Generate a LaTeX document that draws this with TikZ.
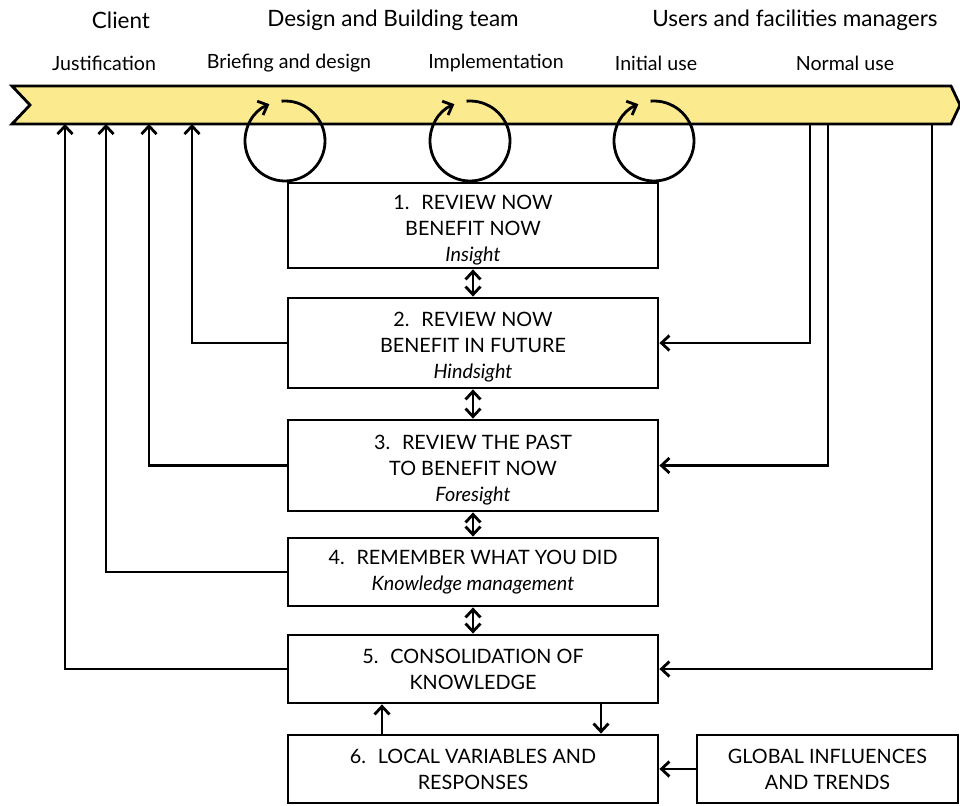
\documentclass[tikz,border=0pt]{standalone}
\usepackage{fontspec}
\setmainfont{Lato}
\usetikzlibrary{arrows.meta}
\definecolor{bandyellow}{RGB}{252,234,142}
\newcommand{\topline}[1]{\raisebox{0pt}[23pt][0pt]{#1}}

\begin{document}
\begin{tikzpicture}[
        x=1pt, y=-1pt,
        line width=2.8pt,
        font=\fontsize{19.8}{26}\selectfont,
        >={Straight Barb[length=8pt,width=15pt]},
        head/.style={font=\fontsize{22.5}{26}\selectfont, inner sep=0pt},
        stage/.style={font=\fontsize{19.6}{22}\selectfont, inner sep=0pt},
        box/.style={draw=black, fill=white, minimum width=370, inner sep=0pt, align=center},
        fb/.style={->}
    ]
        \useasboundingbox (0,0) rectangle (960,805);

        % Who and when
        \node[head] (client) at (121,20) {Client};
        \node[head] (team) at (393,20) {Design and Building team};
        \node[head] (users) at (795,20) {Users and facilities managers};

        \node[stage] (just) at (104,63) {Justification};
        \node[stage] (brief) at (289,63) {Briefing and design};
        \node[stage] (impl) at (496,63) {Implementation};
        \node[stage] (init) at (656,63) {Initial use};
        \node[stage] (norm) at (845,63) {Normal use};

        % Project band
        \draw[fill=bandyellow] (12,86) -- (951,86) -- (960,105) -- (951,124)
            -- (12,124) -- (30,105) -- cycle;

        % Review loops
        \foreach \cx in {285,470,654}
            \draw[->] (\cx,141) ++(-95:40) arc[start angle=-95, end angle=247, radius=40];

        % Review boxes
        \node[box, minimum height=85] (rev1) at (473,225.5) {
            \topline{1.~ REVIEW NOW}\\
            BENEFIT NOW\\
            \textit{Insight}
        };
        \node[box, minimum height=90] (rev2) at (473,343) {
            \topline{2.~ REVIEW NOW}\\
            BENEFIT IN FUTURE\\
            \textit{Hindsight}
        };
        \node[box, minimum height=91] (rev3) at (473,465.5) {
            \topline{3.~ REVIEW THE PAST}\\
            TO BENEFIT NOW\\
            \textit{Foresight}
        };
        \node[box, minimum height=68] (rev4) at (473,572) {
            4.~ REMEMBER WHAT YOU DID\\
            \textit{Knowledge management}
        };
        \node[box, minimum height=68] (rev5) at (473,669) {
            5.~ CONSOLIDATION OF\\
            KNOWLEDGE
        };
        \node[box, minimum height=68] (rev6) at (473,769) {
            6.~ LOCAL VARIABLES AND\\
            RESPONSES
        };
        \node[box, minimum width=261, minimum height=68] (global) at (827.5,769) {
            GLOBAL INFLUENCES\\
            AND TRENDS
        };

        % Links between boxes
        \draw[<->] (rev1) -- (rev2);
        \draw[<->] (rev2) -- (rev3);
        \draw[<->] (rev3) -- (rev4);
        \draw[<->] (rev4) -- (rev5);
        \draw[->] ([xshift=-91]rev6.north) -- ([xshift=-91]rev5.south);
        \draw[->] ([xshift=128]rev5.south) -- ([xshift=128]rev6.north);
        \draw[->] (global) -- (rev6);

        % Back to the client
        \coordinate (up2) at (192,124);
        \coordinate (up3) at (149,124);
        \coordinate (up4) at (106,124);
        \coordinate (up5) at (65,124);
        \draw[fb] (rev2.west) -| (up2);
        \draw[fb] (rev3.west) -| (up3);
        \draw[fb] (rev4.west) -| (up4);
        \draw[fb] (rev5.west) -| (up5);

        % From normal use
        \coordinate (dn2) at (810,124);
        \coordinate (dn3) at (828,124);
        \coordinate (dn5) at (932,124);
        \draw[fb] (dn2) |- (rev2.east);
        \draw[fb] (dn3) |- (rev3.east);
        \draw[fb] (dn5) |- (rev5.east);

    \end{tikzpicture}
\end{document}
